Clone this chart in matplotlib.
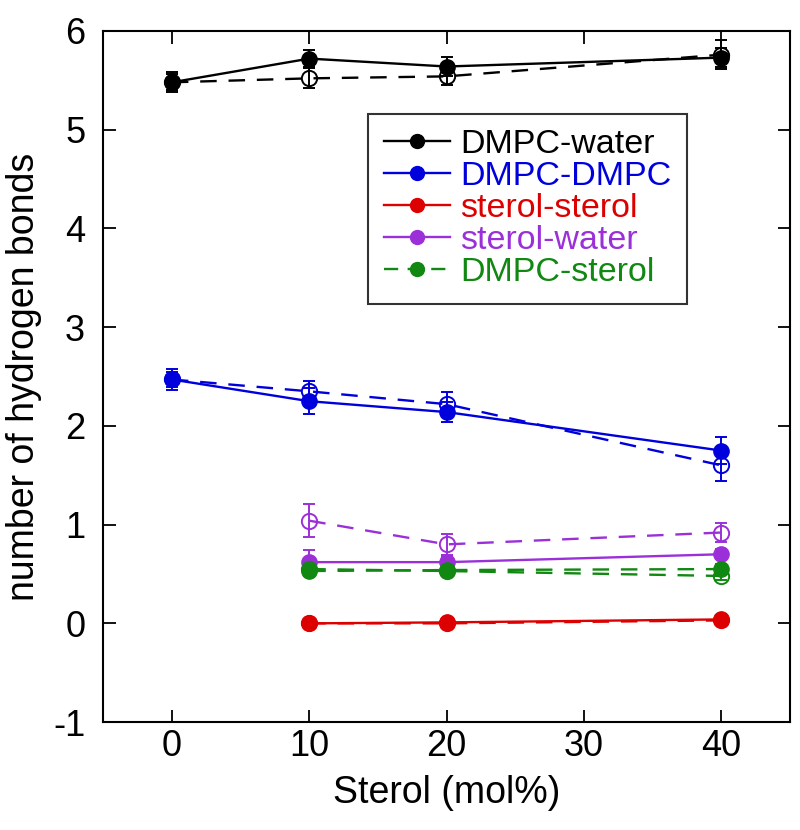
import numpy as np
import matplotlib.pyplot as plt
from matplotlib.lines import Line2D

plt.rcParams['font.family'] = ['Liberation Sans', 'DejaVu Sans']
plt.rcParams['axes.unicode_minus'] = False

# sterol content (mol%)
x_all = [0, 10, 20, 40]
x_sterol = [10, 20, 40]

# DMPC-water
dw_solid = [5.48, 5.72, 5.64, 5.73]
dw_solid_err = [0.10, 0.09, 0.10, 0.10]
dw_dash = [5.48, 5.52, 5.54, 5.76]
dw_dash_err = [0.08, 0.10, 0.09, 0.15]

# DMPC-DMPC
dd_solid = [2.47, 2.25, 2.14, 1.75]
dd_solid_err = [0.11, 0.13, 0.10, 0.14]
dd_dash = [2.47, 2.35, 2.22, 1.60]
dd_dash_err = [0.08, 0.10, 0.12, 0.16]

# sterol-sterol
ss_solid = [0.00, 0.01, 0.04]
ss_solid_err = [0.02, 0.02, 0.02]
ss_dash = [0.00, 0.00, 0.03]
ss_dash_err = [0.02, 0.02, 0.02]

# sterol-water
sw_solid = [0.62, 0.62, 0.70]
sw_solid_err = [0.12, 0.06, 0.05]
sw_dash = [1.04, 0.80, 0.92]
sw_dash_err = [0.17, 0.11, 0.10]

# DMPC-sterol
ds_filled = [0.53, 0.54, 0.55]
ds_filled_err = [0.05, 0.06, 0.05]
ds_open = [0.55, 0.53, 0.48]
ds_open_err = [0.04, 0.04, 0.04]

labels = ['DMPC-water', 'DMPC-DMPC', 'sterol-sterol', 'sterol-water', 'DMPC-sterol']
black = 'black'
blue = '#0000dd'
red = '#dd0000'
purple = '#9b30d9'
green = '#118811'
colors = [black, blue, red, purple, green]

fig = plt.figure(figsize=(8, 8.3), dpi=100)
ax = fig.add_axes([0.129, 0.130, 0.8585, 0.8327])

ms = 11
lw = 1.7
cs = 4


def solid(x, y, e, c, ls='-'):
    ax.errorbar(x, y, yerr=e, color=c, ls=ls, lw=lw, marker='o', ms=ms,
                mfc=c, mec=c, capsize=cs, elinewidth=1.4, capthick=1.4)


def dashed(x, y, e, c):
    ax.errorbar(x, y, yerr=e, color=c, ls='--', dashes=(7, 5), lw=lw,
                marker='o', ms=ms, mfc='none', mec=c, mew=1.4, capsize=cs,
                elinewidth=1.4, capthick=1.4)


dashed(x_all, dw_dash, dw_dash_err, black)
solid(x_all, dw_solid, dw_solid_err, black)
dashed(x_all, dd_dash, dd_dash_err, blue)
solid(x_all, dd_solid, dd_solid_err, blue)
dashed(x_sterol, ss_dash, ss_dash_err, red)
solid(x_sterol, ss_solid, ss_solid_err, red)
dashed(x_sterol, sw_dash, sw_dash_err, purple)
solid(x_sterol, sw_solid, sw_solid_err, purple)
dashed(x_sterol, ds_open, ds_open_err, green)
ax.errorbar(x_sterol, ds_filled, yerr=ds_filled_err, color=green, ls='--',
            dashes=(7, 5), lw=lw, marker='o', ms=ms, capsize=cs,
            elinewidth=1.4, capthick=1.4)

ax.set_xlim(-5, 45)
ax.set_ylim(-1, 6)
ax.set_xticks([0, 10, 20, 30, 40])
ax.set_yticks(range(-1, 7))
ax.tick_params(direction='in', length=9, width=1.3, labelsize=26,
               top=True, right=True)
ax.tick_params(axis='x', pad=5)
ax.tick_params(axis='y', pad=13)
for s in ax.spines.values():
    s.set_linewidth(1.5)

ax.set_xlabel('Sterol (mol%)', fontsize=27, labelpad=8)
ax.set_ylabel('number of hydrogen bonds', fontsize=27, labelpad=8)

handles = []
for c, lab in zip(colors, labels):
    if lab == 'DMPC-sterol':
        h = Line2D([], [], color=c, lw=lw, ls='--', dashes=(6, 4), marker='o', ms=10)
    else:
        h = Line2D([], [], color=c, lw=lw, marker='o', ms=10)
    handles.append(h)

leg = ax.legend(handles, labels, loc='upper left', bbox_to_anchor=(0.386, 0.880),
                fontsize=24.5, frameon=True, fancybox=False, edgecolor='black',
                handlelength=1.95, handletextpad=0.3, labelspacing=0.03,
                borderpad=0.45, borderaxespad=0)
leg.get_frame().set_linewidth(1.5)
for t, c in zip(leg.get_texts(), colors):
    t.set_color(c)

fig.savefig('out.png', dpi=100)
